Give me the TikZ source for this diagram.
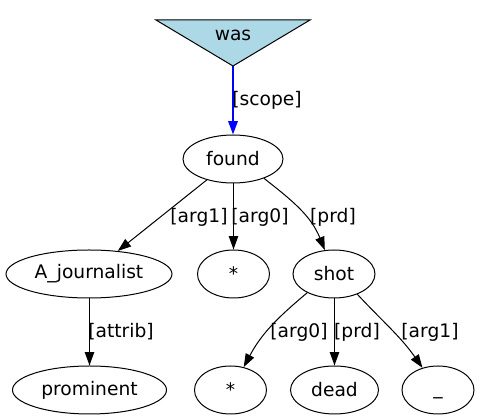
\documentclass[tikz,border=0pt]{standalone}
\usepackage{fontspec}
\setmainfont{DejaVu Sans}
\usetikzlibrary{arrows.meta,shapes.geometric}
\definecolor{lblue}{HTML}{ADD8E6}
\begin{document}
\begin{tikzpicture}[x=0.75pt,y=-0.75pt,
  every node/.style={font=\fontsize{14}{16}\selectfont},
  ell/.style={draw,ellipse,inner sep=0pt,minimum height=36pt,line width=0.75pt},
  edge/.style={draw,line width=0.75pt,-{Triangle[length=10pt,width=7pt]}},
  lab/.style={inner sep=0pt}]
\useasboundingbox (0,0) rectangle (480,420);
% top triangle node
\draw[fill=lblue,line width=0.75pt] (156,20) -- (310,20) -- (233,66) -- cycle;
\node (was) at (233,35) {was};
\coordinate (wastip) at (233,66);
% nodes
\node[ell,minimum width=75pt] (found) at (233,159) {found};
\node[ell,minimum width=124.5pt] (aj) at (89,274) {A\symbol{95}journalist};
\node[ell,minimum width=54pt] (star1) at (233.5,274) {*};
\node[ell,minimum width=61.5pt] (shot) at (334,274) {shot};
\node[ell,minimum width=115.5pt] (prom) at (89.5,390) {prominent};
\node[ell,minimum width=54pt] (star2) at (230.5,390) {*};
\node[ell,minimum width=66pt] (dead) at (334.5,390) {dead};
\node[ell,minimum width=54pt] (us) at (438,390) {\vphantom{d}\symbol{95}};
% edges
\draw[draw=blue,line width=1.5pt,-{Triangle[length=10pt,width=7pt]},blue] (wastip) -- (found);
\draw[edge] (found) -- (aj);
\draw[edge] (found.south -| star1) -- (star1);
\draw[edge] (found.-32) to[out=-38,in=112] (shot.111);
\draw[edge] (aj.south -| prom) -- (prom);
\draw[edge] (shot.-145) to[out=-140,in=62] (star2.60);
\draw[edge] (shot.south -| dead) -- (dead);
\draw[edge] (shot.-41) to[out=-47,in=125] (us.125);
% labels
\node[lab] (l1) at (267,100) {[scope]};
\node[lab] (l2) at (199,217) {[arg1]};
\node[lab] (l3) at (260,217) {[arg0]};
\node[lab] (l4) at (333,217) {[prd]};
\node[lab] (l5) at (121,332) {[attrib]};
\node[lab] (l6) at (299,332) {[arg0]};
\node[lab] (l7) at (357,332) {[prd]};
\node[lab] (l8) at (430,332) {[arg1]};
\end{tikzpicture}
\end{document}
